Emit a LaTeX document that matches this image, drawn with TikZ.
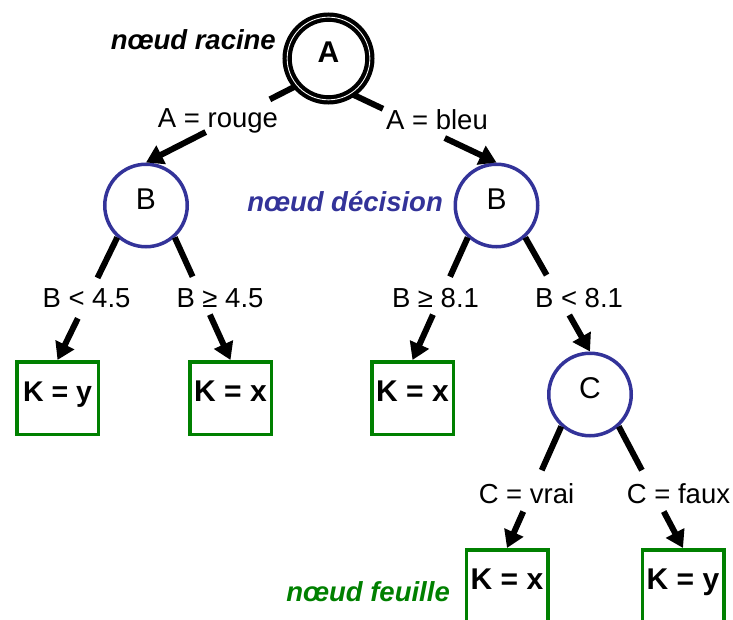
\documentclass[tikz,border=0pt]{standalone}
\usepackage{fontspec}
\setmainfont{Liberation Sans}
\usetikzlibrary{arrows.meta,calc}
\definecolor{nblue}{RGB}{51,51,153}
\definecolor{ngreen}{RGB}{0,128,0}
\newcommand\splitedge[4]{%
  \draw[ln] (#1) -- ($(#1)!#3!(#2)$);
  \draw[arr] ($(#1)!#4!(#2)$) -- (#2);}
\begin{document}
\begin{tikzpicture}[x=1pt,y=-1pt,
  dec/.style={circle,draw=nblue,line width=3.5pt,minimum size=82.5pt,inner sep=0pt,text height=0.716em,text depth=0pt,font=\fontsize{30}{34}\selectfont},
  rootn/.style={circle,draw=black,line width=4.2pt,double=white,double distance=0.9pt,minimum size=82.7pt,inner sep=0pt,text height=0.716em,text depth=0pt,font=\bfseries\fontsize{30}{34}\selectfont},
  leaf/.style={rectangle,draw=ngreen,line width=3.5pt,minimum width=81.5pt,minimum height=72.5pt,inner sep=0pt,text height=0.716em,text depth=0pt,font=\bfseries\fontsize{30}{34}\selectfont},
  lbl/.style={anchor=base,inner sep=0pt,font=\fontsize{27.5}{32}\selectfont},
  tag/.style={font=\bfseries\itshape\fontsize{27.5}{32}\selectfont,anchor=base east,inner sep=0pt},
  ln/.style={line width=6pt},
  arr/.style={line width=6pt,-{Triangle[length=17pt,width=20pt]}}]
\useasboundingbox (0,0) rectangle (733,620);
\clip (0,0) rectangle (733,620);
% nodes
\node[rootn] (A) at (328.5,58.5) {A};
\node[dec] (Bl) at (146,205.5) {B};
\node[dec] (Br) at (496.5,205.5) {B};
\node[dec] (C) at (590,394.5) {C};
\node[leaf,font=\bfseries\fontsize{28.5}{32}\selectfont] (L1) at (57.5,398) {K = y};
\node[leaf] (L2) at (230.5,398) {K = x};
\node[leaf] (L3) at (412.5,398) {K = x};
\node[leaf] (L4) at (507,586) {K = x};
\node[leaf] (L5) at (683,586) {K = y};
% connectors (interrupted where the condition is written)
\splitedge{A.220}{Bl.north}{0.17}{0.6}
\splitedge{A.-56}{Br.north}{0.21}{0.64}
\splitedge{Bl.228}{L1.north}{0.33}{0.66}
\splitedge{Bl.-48}{L2.north}{0.32}{0.63}
\splitedge{Br.228}{L3.north}{0.32}{0.63}
\splitedge{Br.-48}{C.north}{0.33}{0.68}
\splitedge{C.228}{L4.north}{0.36}{0.70}
\splitedge{C.-48}{L5.north}{0.36}{0.70}
% edge labels
\node[lbl] (e1) at (218,128) {A = rouge};
\node[lbl] (e2) at (437,130) {A = bleu};
\node[lbl] (e3) at (86.5,307) {B < 4.5};
\node[lbl] (e4) at (220,307) {B ≥ 4.5};
\node[lbl] (e5) at (435.5,307) {B ≥ 8.1};
\node[lbl] (e6) at (579,307) {B < 8.1};
\node[lbl] (e7) at (526.5,503) {C = vrai};
\node[lbl] (e8) at (678.5,503) {C = faux};
% tags
\node[tag,text=black] (tr) at (276,50) {nœud racine};
\node[tag,text=nblue] (td) at (443,212) {nœud décision};
\node[tag,text=ngreen] (tf) at (450,601) {nœud feuille};
\end{tikzpicture}
\end{document}
